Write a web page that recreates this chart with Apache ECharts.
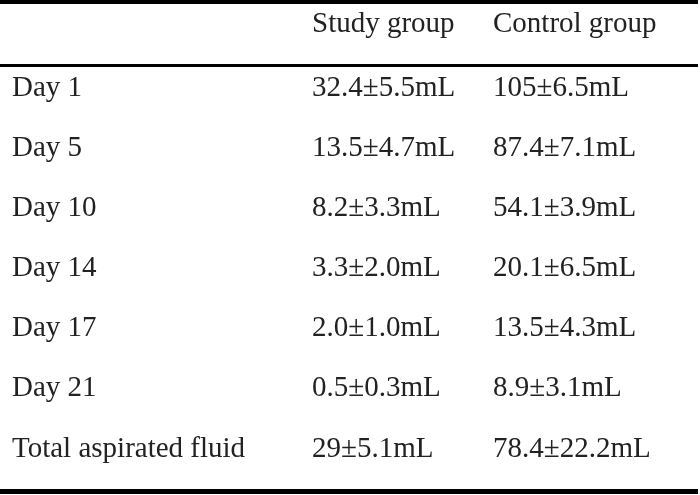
<!DOCTYPE html>
<html>
<head>
<meta charset="utf-8">
<script src="https://cdn.jsdelivr.net/npm/echarts@6/dist/echarts.min.js"></script>
<style>
  html, body { margin: 0; padding: 0; background: #fff; }
  #table { width: 700px; height: 495px; }
</style>
</head>
<body>
<div id="table"></div>
<script>
// table contents
const columnHeaders = ["Study group", "Control group"];
const rowLabels = ["Day 1", "Day 5", "Day 10", "Day 14", "Day 17", "Day 21", "Total aspirated fluid"];
const studyGroup = ["32.4±5.5mL", "13.5±4.7mL", "8.2±3.3mL", "3.3±2.0mL", "2.0±1.0mL", "0.5±0.3mL", "29±5.1mL"];
const controlGroup = ["105±6.5mL", "87.4±7.1mL", "54.1±3.9mL", "20.1±6.5mL", "13.5±4.3mL", "8.9±3.1mL", "78.4±22.2mL"];

// layout: left edge of each column (x axis units = px), row units on y
const colX = [12, 312, 493];
const headerRow = -0.063;      // header sits a little higher than a full row step
const rules = [
    { y: -0.429, width: 4 },   // top border
    { y: 0.627, width: 3 },    // under header
    { y: 7.707, width: 5 }     // bottom border
];

// cells: [x, row, text]
const cells = [];
columnHeaders.forEach((h, i) => cells.push([colX[i + 1], headerRow, h]));
rowLabels.forEach((lab, r) => {
    cells.push([colX[0], r + 1, lab]);
    cells.push([colX[1], r + 1, studyGroup[r]]);
    cells.push([colX[2], r + 1, controlGroup[r]]);
});

const chart = echarts.init(document.getElementById("table"), null, { renderer: "canvas" });
chart.setOption({
    animation: false,
    grid: { left: 0, right: 2, top: 0, bottom: 0 },
    xAxis: { type: "value", min: 0, max: 698, show: false },
    yAxis: { type: "value", min: -0.462, max: 7.765, inverse: true, show: false },
    series: [{
        type: "custom",
        silent: true,
        data: cells,
        renderItem: function (params, api) {
            const p = api.coord([api.value(0), api.value(1)]);
            return {
                type: "text",
                x: p[0],
                y: p[1],
                style: {
                    text: cells[params.dataIndex][2],
                    font: "29px 'Liberation Serif', 'Times New Roman', serif",
                    fill: "#222",
                    align: "left",
                    verticalAlign: "middle"
                }
            };
        },
        markLine: {
            silent: true,
            symbol: "none",
            label: { show: false },
            data: rules.map(r => ({ yAxis: r.y, lineStyle: { color: "#000", width: r.width, type: "solid" } }))
        }
    }]
});
</script>
</body>
</html>
